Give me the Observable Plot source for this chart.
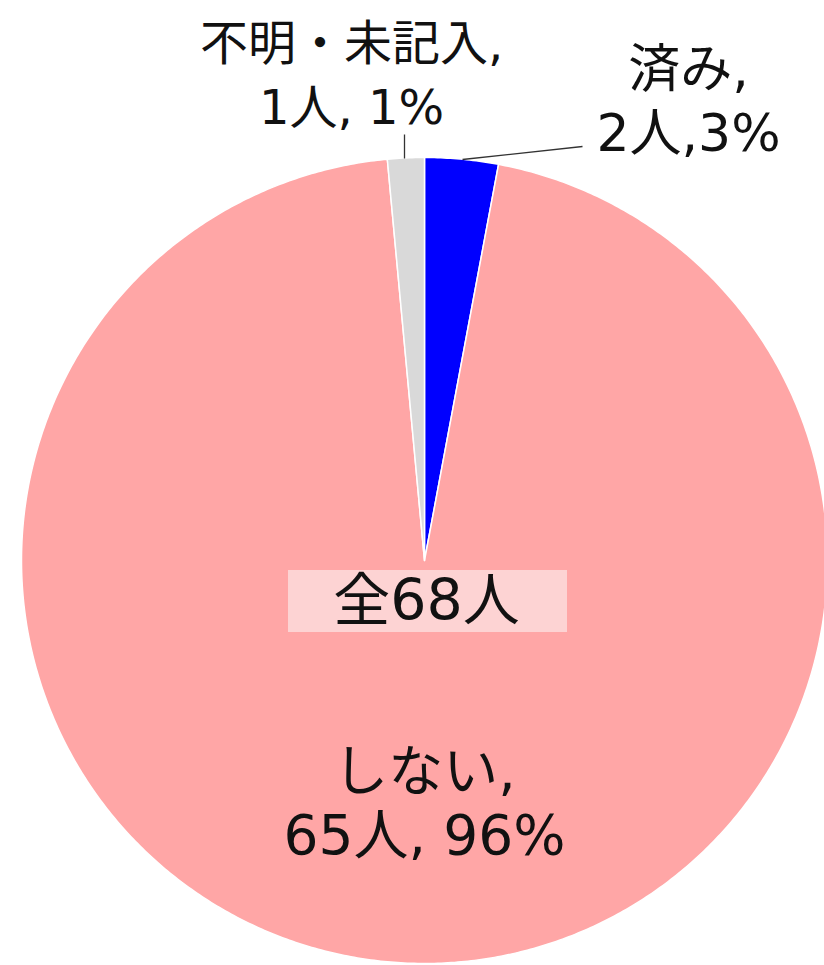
<!DOCTYPE html>
<html><head><meta charset="utf-8">
<script src="https://cdn.jsdelivr.net/npm/d3@7"></script>
<script src="https://cdn.jsdelivr.net/npm/@observablehq/plot@0.6"></script>
<style>body{margin:0;background:#fff;}#c{width:824px;height:965px;overflow:hidden;}</style>
</head><body><div id="c"></div>
<script>
const categories = ["済み", "しない", "不明・未記入"];
const counts = [2, 65, 1];
const percents = [3, 96, 1];
const colors = ["#0000ff", "#ffa6a6", "#d9d9d9"];
const totalLabel = "全68人";

const W = 824, H = 965, cx = 424, cy = 560, R = 403;
const px = v => (v - cx) / R, py = v => (cy - v) / R;

const arcs = d3.pie().sort(null).value(d => d)(counts);
const poly = [];
arcs.forEach((a, i) => {
  const n = Math.max(8, Math.ceil((a.endAngle - a.startAngle) * 120));
  poly.push({k: i, x: 0, y: 0});
  for (let j = 0; j <= n; j++) {
    const t = a.startAngle + (a.endAngle - a.startAngle) * j / n;
    poly.push({k: i, x: Math.sin(t), y: Math.cos(t)});
  }
  poly.push({k: i, x: 0, y: 0});
});

const labels = [
  {t: `${categories[0]},\n${counts[0]}人,${percents[0]}%`, x: px(688), y: py(98), fs: 52},
  {t: `${categories[1]},\n${counts[1]}人, ${percents[1]}%`, x: px(424), y: py(801), fs: 55},
  {t: `${categories[2]},\n${counts[2]}人, ${percents[2]}%`, x: px(351), y: py(71), fs: 48}
];
const leaders = [
  {x1: px(582), y1: py(146), x2: px(462), y2: py(159)},
  {x1: px(404), y1: py(134), x2: px(404), y2: py(158)}
];

const font = "'DejaVu Sans', 'Noto Sans CJK JP', sans-serif";
const chart = Plot.plot({
  width: W, height: H, margin: 0,
  x: {domain: [px(0), px(W)], range: [0, W], axis: null},
  y: {domain: [py(H), py(0)], range: [H, 0], axis: null},
  style: {fontFamily: font, background: "#fff"},
  marks: [
    Plot.line(poly, {x: "x", y: "y", z: "k", fill: d => colors[d.k], stroke: "#fff", strokeWidth: 1.5, curve: "linear"}),
    Plot.link(leaders, {x1: "x1", y1: "y1", x2: "x2", y2: "y2", stroke: "#333", strokeWidth: 1.3}),
    Plot.rect([{x1: px(288), x2: px(567), y1: py(632), y2: py(570)}], {x1: "x1", x2: "x2", y1: "y1", y2: "y2", fill: "#fdd3d3"}),
    Plot.text([totalLabel], {x: px(426), y: py(601), text: d => d, fontSize: 57, fill: "#111"}),
    ...labels.map(l => Plot.text([l], {x: "x", y: "y", text: "t", fontSize: l.fs, lineHeight: 64 / l.fs, fill: "#111"}))
  ]
});
document.getElementById("c").append(chart);
</script></body></html>
